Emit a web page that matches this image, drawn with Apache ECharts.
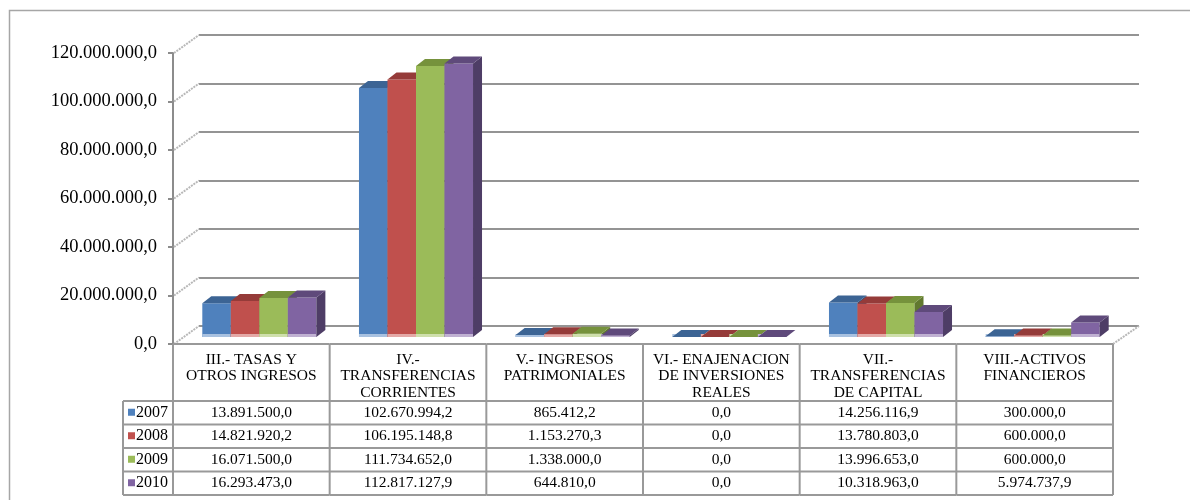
<!DOCTYPE html>
<html>
<head>
<meta charset="utf-8">
<script src="https://cdn.jsdelivr.net/npm/echarts@6/dist/echarts.min.js"></script>
<style>
  html, body { margin: 0; padding: 0; background: #fff; }
  #chart { width: 1190px; height: 500px; }
</style>
</head>
<body>
<div id="chart"></div>
<script>
// ---- data ----
const categories = [
  ['III.- TASAS Y', 'OTROS INGRESOS'],
  ['IV.-', 'TRANSFERENCIAS', 'CORRIENTES'],
  ['V.- INGRESOS', 'PATRIMONIALES'],
  ['VI.- ENAJENACION', 'DE INVERSIONES', 'REALES'],
  ['VII.-', 'TRANSFERENCIAS', 'DE CAPITAL'],
  ['VIII.-ACTIVOS', 'FINANCIEROS']
];
const years = ['2007', '2008', '2009', '2010'];
const values2007 = [13891500.0, 102670994.2, 865412.2, 0.0, 14256116.9, 300000.0];
const values2008 = [14821920.2, 106195148.8, 1153270.3, 0.0, 13780803.0, 600000.0];
const values2009 = [16071500.0, 111734652.0, 1338000.0, 0.0, 13996653.0, 600000.0];
const values2010 = [16293473.0, 112817127.9, 644810.0, 0.0, 10318963.0, 5974737.9];
const yTicks = [0, 20000000, 40000000, 60000000, 80000000, 100000000, 120000000];

const allValues = [values2007, values2008, values2009, values2010];
const colors = ['#4F81BD', '#C0504D', '#9BBB59', '#8064A2'];
const topColors = ['#3C6494', '#953B39', '#76923C', '#5F4A7B'];
const sideColors = ['#2F4F78', '#7D302E', '#61782F', '#4E3D66'];
const baseColors = ['#A8C1E0', '#E4A9A7', '#CFDFAC', '#C0B1D2'];

const FONT = '"Liberation Serif", "Times New Roman", serif';
const LINE = '#999999';
const DEPTH_X = 26, DEPTH_Y = 18;   // floor depth
const BAR_DX = 9, BAR_DY = 7;       // bar depth

function fmt(v) {
  const parts = v.toFixed(1).split('.');
  return parts[0].replace(/\B(?=(\d{3})+(?!\d))/g, '.') + ',' + parts[1];
}

const chart = echarts.init(document.getElementById('chart'));

function barRenderer(idx) {
  return function (params, api) {
    const base = api.coord([api.value(0), 0]);
    const top = api.coord([api.value(0), api.value(1)]);
    const cw = api.size([1, 0])[0];
    const bw = cw * 0.182;
    const x = base[0] - 2 * bw + idx * bw;
    const y0 = base[1], y1 = top[1];
    return {
      type: 'group',
      children: [
        { type: 'rect', shape: { x: x, y: y1, width: bw, height: y0 - y1 },
          style: { fill: colors[idx] } },
        { type: 'rect', shape: { x: x, y: y0 - 3, width: bw, height: 3 },
          style: { fill: baseColors[idx] } },
        { type: 'polygon', shape: { points: [[x + bw, y1], [x + bw + BAR_DX, y1 - BAR_DY], [x + bw + BAR_DX, y0 - BAR_DY], [x + bw, y0]] },
          style: { fill: sideColors[idx] } },
        { type: 'polygon', shape: { points: [[x, y1], [x + BAR_DX, y1 - BAR_DY], [x + bw + BAR_DX, y1 - BAR_DY], [x + bw, y1]] },
          style: { fill: topColors[idx] } }
      ]
    };
  };
}

function diagRenderer(params, api) {
  const p = api.coord([0, api.value(1)]);
  const cw = api.size([1, 0])[0];
  const left = p[0] - cw / 2;
  const children = [
    { type: 'line', shape: { x1: left + 1, y1: p[1], x2: left + DEPTH_X, y2: p[1] - DEPTH_Y },
      style: { stroke: '#B8B8B8', lineWidth: 2, lineDash: [2, 1] } }
  ];
  if (api.value(1) === 0) {
    const right = api.coord([categories.length - 1, 0])[0] + cw / 2;
    children.push({ type: 'line', shape: { x1: right, y1: p[1], x2: right + DEPTH_X, y2: p[1] - DEPTH_Y },
      style: { stroke: '#B8B8B8', lineWidth: 2, lineDash: [2, 1] } });
  }
  return { type: 'group', children: children };
}

function tableRenderer(params, api) {
  const i = api.value(0);
  const p = api.coord([i, 0]);
  const cw = api.size([1, 0])[0];
  const x0 = p[0] - cw / 2, x1 = p[0] + cw / 2, top = p[1];
  const headH = 57, rowH = 23.5;
  const bottom = top + headH + rowH * years.length;
  const txt = { fontSize: 15.5, fontFamily: FONT, fill: '#000', align: 'center', verticalAlign: 'middle' };
  const ch = [];
  const ln = (a, b, c, d) => ch.push({ type: 'line', shape: { x1: a, y1: b, x2: c, y2: d },
    style: { stroke: LINE, lineWidth: 2 } });

  categories[i].forEach((s, k) => ch.push({ type: 'text',
    style: Object.assign({ text: s, x: p[0], y: top + 16 + k * 16.3 }, txt) }));
  years.forEach((y, r) => ch.push({ type: 'text',
    style: Object.assign({ text: fmt(allValues[r][i]), x: p[0], y: top + headH + rowH * (r + 0.5) }, txt) }));

  ln(x0, top, x1, top);
  for (let r = 0; r <= years.length; r++) ln(x0, top + headH + r * rowH, x1, top + headH + r * rowH);
  ln(x1, top, x1, bottom);
  if (i === 0) {
    const lx = x0 - 50;
    ln(x0, top, x0, bottom);
    ln(lx, top + headH, lx, bottom);
    for (let r = 0; r <= years.length; r++) ln(lx, top + headH + r * rowH, x0, top + headH + r * rowH);
    years.forEach((y, r) => {
      const cy = top + headH + rowH * (r + 0.5);
      ch.push({ type: 'rect', shape: { x: lx + 5, y: cy - 4, width: 7, height: 7 }, style: { fill: colors[r] } });
      ch.push({ type: 'text', style: { text: y, x: lx + 13, y: cy, fontSize: 16, fontFamily: FONT,
        fill: '#000', align: 'left', verticalAlign: 'middle' } });
    });
  }
  return { type: 'group', children: ch };
}

const option = {
  animation: false,
  backgroundColor: '#fff',
  graphic: [{
    type: 'rect', left: 7, top: 8, z: -10,
    shape: { width: 1220, height: 560 },
    style: { fill: 'none', stroke: '#A6A6A6', lineWidth: 1.5 }
  }],
  grid: [
    { left: 173, top: 53, width: 940, height: 291 },                               // front plane
    { left: 173 + DEPTH_X, top: 53 - DEPTH_Y, width: 940, height: 291 },           // back wall
    { left: 173 + 8, top: 53 - 7, width: 940, height: 291 }                        // bars plane
  ],
  xAxis: [0, 1, 2].map(g => ({
    type: 'category', gridIndex: g, data: categories.map(c => c.join(' ')),
    show: false, boundaryGap: true
  })),
  yAxis: [
    { type: 'value', gridIndex: 0, min: 0, max: 120000000, interval: 20000000,
      axisLine: { show: true, lineStyle: { color: '#8C8C8C', width: 2 } },
      axisTick: { show: true, length: 5, lineStyle: { color: '#8C8C8C', width: 2 } },
      axisLabel: { formatter: fmt, fontSize: 18.5, fontFamily: FONT, color: '#000', margin: 16 },
      splitLine: { show: false } },
    { type: 'value', gridIndex: 1, min: 0, max: 120000000, interval: 20000000,
      axisLine: { show: false }, axisTick: { show: false }, axisLabel: { show: false },
      splitLine: { show: true, lineStyle: { color: '#949494', width: 2 } } },
    { type: 'value', gridIndex: 2, min: 0, max: 120000000, interval: 20000000,
      axisLine: { show: false }, axisTick: { show: false }, axisLabel: { show: false },
      splitLine: { show: false } }
  ],
  series: [
    { type: 'custom', name: 'diag', xAxisIndex: 0, yAxisIndex: 0, silent: true, clip: false,
      data: yTicks.map(v => [0, v]), encode: { x: 0, y: 1 }, renderItem: diagRenderer, z: 1 },
    { type: 'custom', name: 'table', xAxisIndex: 0, yAxisIndex: 0, silent: true, clip: false,
      data: categories.map((c, i) => [i, 0]), encode: { x: 0, y: 1 }, renderItem: tableRenderer, z: 3 }
  ].concat(years.map((y, idx) => ({
    type: 'custom', name: y, xAxisIndex: 2, yAxisIndex: 2, clip: false,
    data: allValues[idx].map((v, i) => [i, v]), encode: { x: 0, y: 1 },
    renderItem: barRenderer(idx), z: 2
  })))
};

chart.setOption(option);
window.addEventListener('resize', () => chart.resize());
</script>
</body>
</html>
